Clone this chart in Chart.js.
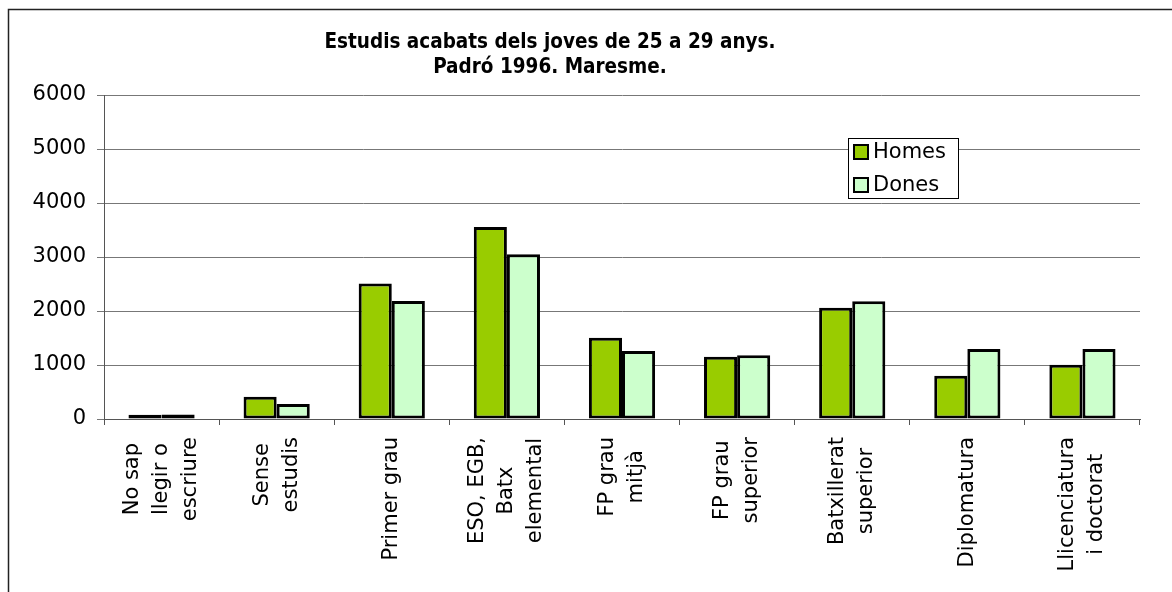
<!DOCTYPE html>
<html>
<head>
<meta charset="utf-8">
<script src="https://cdn.jsdelivr.net/npm/chart.js@4"></script>
<style>
  body { margin: 0; background: #fff; }
  canvas { display: block; }
</style>
</head>
<body>
<canvas id="chart" width="1172" height="592"></canvas>
<script>
// dades
const titleLines = ['Estudis acabats dels joves de 25 a 29 anys.', 'Padró 1996. Maresme.'];
const categories = [
    ['No sap', 'llegir o', 'escriure'],
    ['Sense', 'estudis'],
    ['Primer grau'],
    ['ESO, EGB,', 'Batx', 'elemental'],
    ['FP grau', 'mitjà'],
    ['FP grau', 'superior'],
    ['Batxillerat', 'superior'],
    ['Diplomatura'],
    ['Llicenciatura', 'i doctorat']
];
const homes = [80, 410, 2510, 3555, 1505, 1155, 2060, 800, 1005];
const dones = [85, 280, 2185, 3050, 1260, 1180, 2180, 1295, 1295];
const yMin = 0, yMax = 6000, yStep = 1000;

const FONT = "'DejaVu Sans', Verdana, sans-serif";

// marc, títol, llegenda i etiquetes de l'eix x
const decor = {
    id: 'decor',
    beforeDraw(chart) {
        const ctx = chart.ctx;
        ctx.save();
        ctx.strokeStyle = '#222';
        ctx.lineWidth = 1.5;
        ctx.beginPath();
        ctx.moveTo(8.5, 600);
        ctx.lineTo(8.5, 9.5);
        ctx.lineTo(1180, 9.5);
        ctx.stroke();
        ctx.restore();
    },
    afterDraw(chart) {
        const ctx = chart.ctx;
        ctx.save();
        // títol
        ctx.fillStyle = '#000';
        ctx.font = "bold 20.5px 'DejaVu Sans Condensed', 'DejaVu Sans', sans-serif";
        ctx.textAlign = 'center';
        ctx.textBaseline = 'middle';
        titleLines.forEach((t, i) => ctx.fillText(t, 550, 43 + i * 24.5));

        // etiquetes de categoria, girades
        const xs = chart.scales.x;
        ctx.font = '21px ' + FONT;
        const lineH = 29;
        const top = chart.chartArea.bottom + 18;
        chart.data.labels.forEach((lines, i) => {
            const x = xs.getPixelForTick(i);
            const maxW = Math.max(...lines.map(l => ctx.measureText(l).width));
            lines.forEach((l, j) => {
                ctx.save();
                ctx.translate(x + (j - (lines.length - 1) / 2) * lineH, top + maxW / 2);
                ctx.rotate(-Math.PI / 2);
                ctx.fillText(l, 0, 0);
                ctx.restore();
            });
        });

        // llegenda
        const lx = 848, ly = 138, lw = 110, lh = 60;
        ctx.fillStyle = '#fff';
        ctx.fillRect(lx, ly, lw, lh);
        ctx.strokeStyle = '#000';
        ctx.lineWidth = 1;
        ctx.strokeRect(lx + 0.5, ly + 0.5, lw, lh);
        ctx.textAlign = 'left';
        chart.data.datasets.forEach((ds, i) => {
            const cy = ly + 14 + i * 33;
            ctx.fillStyle = ds.backgroundColor;
            ctx.fillRect(lx + 6, cy - 7, 14, 14);
            ctx.strokeStyle = '#000';
            ctx.lineWidth = 2;
            ctx.strokeRect(lx + 6, cy - 7, 14, 14);
            ctx.fillStyle = '#000';
            ctx.fillText(ds.label, lx + 25, cy + 1);
        });
        ctx.restore();
    }
};

new Chart(document.getElementById('chart').getContext('2d'), {
    type: 'bar',
    data: {
        labels: categories,
        datasets: [{
            label: 'Homes',
            data: homes,
            backgroundColor: '#99CC00',
            borderColor: '#000',
            borderWidth: 3,
            borderSkipped: false
        }, {
            label: 'Dones',
            data: dones,
            backgroundColor: '#CCFFCC',
            borderColor: '#000',
            borderWidth: 3,
            borderSkipped: false
        }]
    },
    options: {
        responsive: false,
        animation: false,
        layout: { padding: { top: 95, right: 32, bottom: 167, left: 0 } },
        plugins: {
            legend: { display: false },
            title: { display: false },
            tooltip: { enabled: false }
        },
        datasets: { bar: { categoryPercentage: 0.575, barPercentage: 1 } },
        scales: {
            x: {
                offset: true,
                grid: { drawOnChartArea: false, drawTicks: true, tickLength: 6, color: '#555' },
                border: { display: true, color: '#555', width: 1 },
                ticks: { display: false },
                afterFit(s) { s.height = 6; }
            },
            y: {
                min: yMin,
                max: yMax,
                ticks: {
                    stepSize: yStep,
                    color: '#000',
                    padding: 11,
                    font: { family: FONT, size: 21 },
                    callback: v => String(v)
                },
                grid: { color: '#777', tickLength: 7 },
                border: { display: true, color: '#555', width: 1 },
                afterFit(s) { s.width = 104; }
            }
        }
    },
    plugins: [decor]
});
</script>
</body>
</html>
